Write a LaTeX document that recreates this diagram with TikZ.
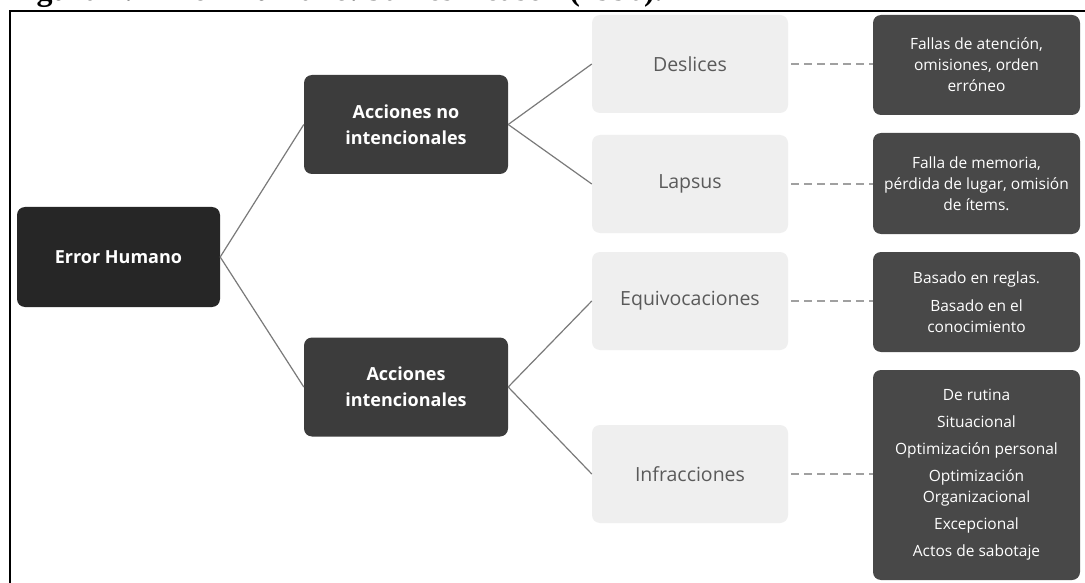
\documentclass[tikz,border=0pt]{standalone}
\usepackage{fontspec}
\setmainfont{Open Sans}
\newfontfamily\capfont{Liberation Serif}
\definecolor{rootc}{HTML}{262626}
\definecolor{midc}{HTML}{3C3C3C}
\definecolor{leafc}{HTML}{484848}
\definecolor{lightc}{HTML}{EFEFEF}
\definecolor{lighttext}{HTML}{5A5A5A}
\definecolor{linec}{HTML}{7A7A7A}
\definecolor{dashc}{HTML}{A0A0A0}
\tikzset{
  rootbox/.style={fill=rootc, rounded corners=8, text=white, inner sep=0,
    minimum width=203, minimum height=100, align=center,
    font=\bfseries\fontsize{18}{26}\selectfont},
  midbox/.style={fill=midc, rounded corners=8, text=white, inner sep=0,
    minimum width=204, minimum height=99, align=center,
    font=\bfseries\fontsize{18}{26}\selectfont},
  catbox/.style={fill=lightc, rounded corners=8, text=lighttext, inner sep=0,
    minimum width=196, minimum height=98, align=center,
    font=\fontsize{19.5}{24}\selectfont},
  leafbox/.style={fill=leafc, rounded corners=8, text=white, inner sep=0,
    minimum width=207, align=center,
    font=\fontsize{15.5}{21}\selectfont},
  solidlink/.style={draw=linec, line width=1.2},
  dashlink/.style={draw=dashc, line width=1.5, dash pattern=on 8 off 5},
}
\begin{document}
\begin{tikzpicture}[x=1pt,y=-1pt]
\clip (0,0) rectangle (1085,583);
\fill[white] (0,0) rectangle (1085,583);
\node[anchor=base west, inner sep=0, font=\capfont\bfseries\fontsize{32}{32}\selectfont] (cap) at (8,1) {Figura 1. Error Humano. James Reason (1990).};
\draw[line width=2.5] (1086,11) -- (10,11) -- (10,584);

\node[rootbox] (eh) at (118.5,257) {Error Humano};
\node[midbox] (ani) at (406,124.5) {Acciones no\\intencionales};
\node[midbox] (ai) at (406,387) {Acciones\\intencionales};

\node[catbox] (des) at (690,64) {Deslices};
\node[catbox] (lap) at (690,184) {Lapsus};
\node[catbox] (equ) at (690,301) {Equivocaciones};
\node[catbox] (inf) at (690,474) {Infracciones};

\node[leafbox, minimum height=100] (l1) at (976.5,65) {Fallas de atención,\\omisiones, orden\\erróneo};
\node[leafbox, minimum height=101] (l2) at (976.5,183.5) {Falla de memoria,\\pérdida de lugar, omisión\\de ítems.};
\node[leafbox, minimum height=100] (l3) at (976.5,302) {Basado en reglas.\\[7pt]Basado en el\\conocimiento};
\node[leafbox, minimum height=210] (l4) at (976.5,475) {De rutina\\[6pt]Situacional\\[6pt]Optimización personal\\[6pt]Optimización\\Organizacional\\[6pt]Excepcional\\[6pt]Actos de sabotaje};

\draw[solidlink] (eh.east) -- (ani.west);
\draw[solidlink] (eh.east) -- (ai.west);
\draw[solidlink] (ani.east) -- (des.west);
\draw[solidlink] (ani.east) -- (lap.west);
\draw[solidlink] (ai.east) -- (equ.west);
\draw[solidlink] (ai.east) -- (inf.west);

\draw[dashlink] ([xshift=3]des.east) -- (l1.west |- des.east);
\draw[dashlink] ([xshift=3]lap.east) -- (l2.west |- lap.east);
\draw[dashlink] ([xshift=3]equ.east) -- (l3.west |- equ.east);
\draw[dashlink] ([xshift=3]inf.east) -- (l4.west |- inf.east);
\end{tikzpicture}
\end{document}
